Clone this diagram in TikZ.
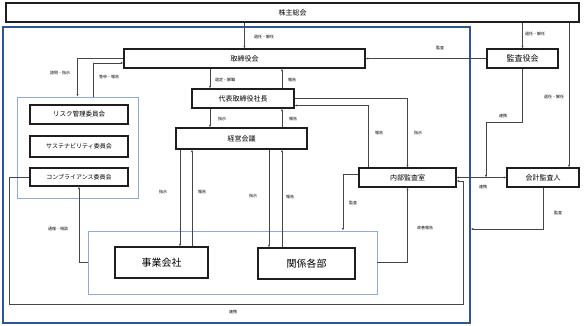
\documentclass[tikz,border=0pt]{standalone}
\usepackage{fontspec}
\setmainfont{Noto Sans CJK JP}
\usetikzlibrary{arrows.meta,positioning,calc}
\definecolor{framenavy}{RGB}{47,85,151}
\definecolor{grpblue}{RGB}{143,170,220}
\definecolor{wiregray}{RGB}{70,70,70}
\definecolor{boxblack}{RGB}{30,30,30}
\tikzset{orgbox/.style={draw=boxblack, fill=white, line width=1.1pt, inner sep=0pt,
             minimum height=19pt, align=center, font=\fontsize{7}{8}\selectfont},
         grpbox/.style={draw=grpblue, line width=0.8pt, inner sep=0pt},
         framebox/.style={draw=framenavy, line width=1.4pt, inner sep=0pt},
         note/.style={font=\fontsize{4}{5}\selectfont, inner sep=0pt},
         >={Latex[length=2.6pt,width=2.2pt]},
         wire/.style={draw=wiregray, line width=0.6pt, ->}}

\begin{document}
\begin{tikzpicture}[x=1pt,y=-1pt]
          \useasboundingbox (0,0) rectangle (585,325);
          \node[framebox, minimum width=467pt, minimum height=296pt] (frame) at (236.5,175) {};
          \node[grpbox, minimum width=121pt, minimum height=101pt] (cgrp) at (77.5,147.5) {};
          \node[grpbox, minimum width=289pt, minimum height=63pt]  (lgrp) at (232.5,262.5) {};
          \node[orgbox, minimum width=573pt] (sh)   at (292.5,12.5) {株主総会};
          \node[orgbox, minimum width=241pt] (bod)  at (244.5,58.5) {取締役会};
          \node[orgbox, minimum width=71pt, font=\fontsize{8}{9}\selectfont] (asb) at (522.5,58.5) {監査役会};
          \node[orgbox, minimum width=102pt] (ceo)  at (243,98.5) {代表取締役社長};
          \node[orgbox, minimum width=131pt, minimum height=21pt] (mgmt) at (241.5,138.5) {経営会議};
          \node[orgbox, minimum width=98pt, font=\fontsize{6.5}{7}\selectfont] (risk) at (79,114.5) {リスク管理委員会};
          \node[orgbox, minimum width=98pt, minimum height=21pt, font=\fontsize{6}{7}\selectfont] (sust) at (79,146.5) {サステナビリティ委員会};
          \node[orgbox, minimum width=98pt, minimum height=18pt, font=\fontsize{6}{7}\selectfont] (comp) at (79,177) {コンプライアンス委員会};
          \node[orgbox, minimum width=97pt] (ia)   at (407.5,177.5) {内部監査室};
          \node[orgbox, minimum width=72pt] (ea)   at (543,177.5) {会計監査人};
          \node[orgbox, minimum width=93pt, minimum height=31pt, font=\fontsize{10}{11}\selectfont] (biz)  at (161.5,262.5) {事業会社};
          \node[orgbox, minimum width=97pt, minimum height=31pt, font=\fontsize{10}{11}\selectfont] (dept) at (306.5,263.5) {関係各部};
          \coordinate (loopL) at (9,304);
          \coordinate (loopR) at (463,304);
          \coordinate (asbBend) at (486,122);
          \coordinate (eaTurn) at (543,229);
          \draw[wire] (bod.north |- sh.south) -- (bod.north);
          \draw[wire] (asb.north |- sh.south) -- (asb.north);
          \draw[wire] ([xshift=26pt]ea.north |- sh.south) -- ([xshift=26pt]ea.north);
          \draw[wire] (asb.west) -- (bod.east);
          \draw[wire] ([xshift=-33pt]ceo.north |- bod.south) -- ([xshift=-33pt]ceo.north);
          \draw[wire] ([xshift=39pt]ceo.north) -- ([xshift=39pt]ceo.north |- bod.south);
          \draw[wire] ([xshift=-33pt]ceo.south) -- ([xshift=-33pt]ceo.south |- mgmt.north);
          \draw[wire] ([xshift=39pt]ceo.south |- mgmt.north) -- ([xshift=39pt]ceo.south);
          \draw[wire] (ceo.east) -| (ia.north);
          \draw[wire] ([xshift=-39.5pt]ia.north) |- ([yshift=-7pt]ceo.east);
          \draw[wire] (bod.west) -| (cgrp.north);
          \draw[wire] ([xshift=15.5pt]cgrp.north) |- ([yshift=-4.5pt]bod.west);
          \draw[wire] ([xshift=18.5pt]biz.north |- mgmt.south) -- ([xshift=18.5pt]biz.north);
          \draw[wire] ([xshift=30.5pt]biz.north) -- ([xshift=30.5pt]biz.north |- mgmt.south);
          \draw[wire] ([xshift=-37.5pt]dept.north |- mgmt.south) -- ([xshift=-37.5pt]dept.north);
          \draw[wire] ([xshift=-24.5pt]dept.north) -- ([xshift=-24.5pt]dept.north |- mgmt.south);
          \draw[wire] (lgrp.west) -| (comp.south);
          \draw[wire] (comp.west) -| (loopL) -- (loopR) |- ([yshift=-3.5pt]ia.east);
          \draw[wire] ([yshift=3.5pt]ia.west) -| ([xshift=110.5pt]lgrp.north);
          \draw[wire] (lgrp.east) -| (ia.south);
          \draw[wire, <->] (ia.east) -- (ea.west);
          \draw[wire] (asb.south) |- (asbBend) -- (asbBend |- ia.east);
          \draw[wire] (ea.south) -- (eaTurn) -- (eaTurn -| frame.east);
          \node[note] (nShBod)  at (264,37)  {選任・解任};
          \node[note] (nShAsb)  at (535,34)  {選任・解任};
          \node[note] (nShEa)   at (554,97)  {選任・解任};
          \node[note] (nAsbBod) at (440,48)  {監査};
          \node[note] (nAsbLnk) at (503,116) {連携};
          \node[note] (nIaEa)   at (483,187) {連携};
          \node[note] (nEaAud)  at (558,213) {監査};
          \node[note] (nBodCeo) at (225,80)  {選定・解職};
          \node[note] (nCeoBod) at (292,80)  {報告};
          \node[note] (nCeoMg)  at (222,119) {指示};
          \node[note] (nMgCeo)  at (293,119) {報告};
          \node[note] (nIaCeo)  at (379,133) {報告};
          \node[note] (nCeoIa)  at (418,133) {指示};
          \node[note] (nBodGrp) at (60,73)   {諮問・指示};
          \node[note] (nGrpBod) at (109,77)  {答申・報告};
          \node[note] (nMgBiz)  at (163,192) {指示};
          \node[note] (nBizMg)  at (202,192) {報告};
          \node[note] (nMgDep)  at (253,196) {指示};
          \node[note] (nDepMg)  at (290,197) {報告};
          \node[note] (nLgComp) at (58,229)  {通報・相談};
          \node[note] (nIaAud)  at (353,203) {監査};
          \node[note] (nImprv)  at (425,228) {改善報告};
          \node[note] (nLoop)   at (233,312) {連携};
        \end{tikzpicture}
\end{document}
